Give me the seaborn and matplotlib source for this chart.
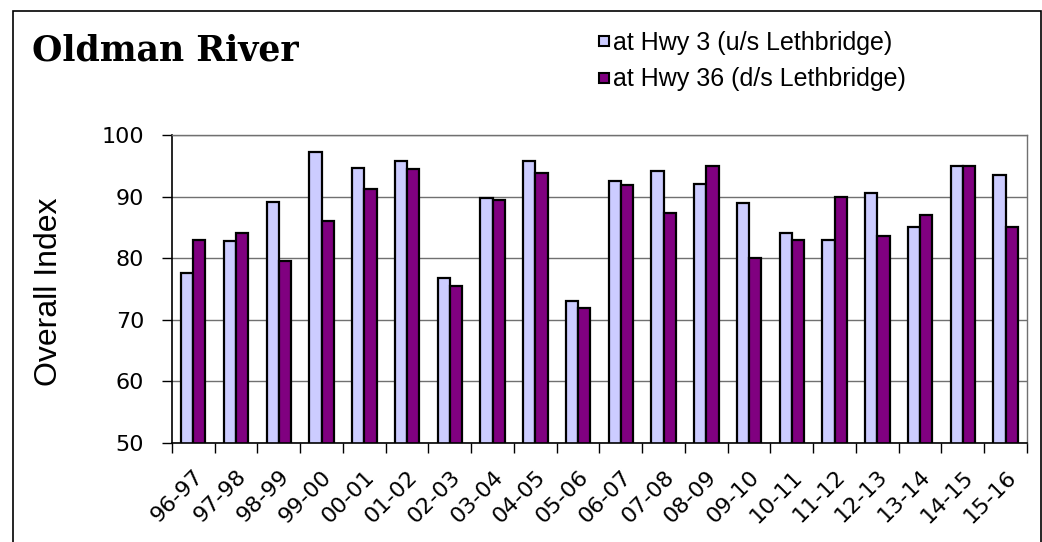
#!/usr/bin/env python3
"""
Oldman River overall index by year, two stations
"""

import numpy as np
import pandas as pd
import matplotlib
matplotlib.use('Agg')
import matplotlib.pyplot as plt
import seaborn as sns
from matplotlib.patches import Rectangle
from matplotlib.lines import Line2D

years = ['96-97', '97-98', '98-99', '99-00', '00-01', '01-02', '02-03',
         '03-04', '04-05', '05-06', '06-07', '07-08', '08-09', '09-10',
         '10-11', '11-12', '12-13', '13-14', '14-15', '15-16']
hwy3 = [77.6, 82.8, 89.1, 97.2, 94.7, 95.8, 76.8, 89.7, 95.7, 73.1,
        92.6, 94.1, 92.0, 88.9, 84.0, 83.0, 90.6, 85.0, 95.0, 93.5]
hwy36 = [82.9, 84.1, 79.6, 86.0, 91.3, 94.5, 75.5, 89.4, 93.8, 71.9,
         91.8, 87.3, 95.0, 80.0, 83.0, 90.0, 83.6, 87.0, 95.0, 85.0]
series = ['at Hwy 3 (u/s Lethbridge)', 'at Hwy 36 (d/s Lethbridge)']
colors = ['#CCCCFF', '#800080']

sns.set_style("white")
plt.rcParams['font.family'] = ['DejaVu Sans']
plt.rcParams.update({'text.color': 'black', 'axes.labelcolor': 'black',
                     'xtick.color': 'black', 'ytick.color': 'black'})

df = pd.DataFrame({
    'Year': years * 2,
    'Index': hwy3 + hwy36,
    'Station': [series[0]] * len(years) + [series[1]] * len(years),
})

fig = plt.figure(figsize=(10.42, 5.42), dpi=100)
ax = fig.add_axes([0.165, 0.183, 0.8206, 0.568])

sns.barplot(data=df, x='Year', y='Index', hue='Station', palette=colors,
            saturation=1, width=0.57, edgecolor='black', linewidth=1.6,
            ax=ax, legend=False)

ax.set_ylim(50, 100)
ax.set_yticks(np.arange(50, 101, 10))
ax.set_xlim(-0.5, len(years) - 0.5)
ax.yaxis.grid(True, color='#707070', linewidth=1)
ax.set_axisbelow(True)

# ticks between categories, labels under category centres
ax.set_xticks(np.arange(len(years)))
ax.set_xticklabels(years, rotation=45, ha='right', va='top',
                   rotation_mode='anchor', fontsize=16)
ax.set_xticks(np.arange(-0.5, len(years), 1), minor=True)
ax.tick_params(axis='x', which='major', length=0, pad=17)
ax.tick_params(axis='x', which='minor', length=7, width=1, color='black',
               direction='out', bottom=True)
ax.tick_params(axis='y', length=7, width=1, color='black', direction='out',
               left=True, labelsize=16, pad=13)

ax.set_xlabel('')
ax.set_ylabel('Overall Index', fontsize=23, family='Liberation Sans')
ax.yaxis.set_label_coords(-0.126, 0.49)

for side in ['left', 'bottom']:
    ax.spines[side].set_color('black')
    ax.spines[side].set_linewidth(1.2)
for side in ['top', 'right']:
    ax.spines[side].set_color('#707070')
    ax.spines[side].set_linewidth(1)

# legend in the figure header, square swatches
handles = [Line2D([], [], marker='s', markersize=7, markerfacecolor=c,
                  markeredgecolor='black', markeredgewidth=1.5, linestyle='none')
           for c in colors]
fig.legend(handles, series, loc='upper left', bbox_to_anchor=(0.575, 0.943),
           frameon=False, prop={'family': 'Liberation Sans', 'size': 18},
           handlelength=0.42, handletextpad=0.15,
           labelspacing=0.5, borderaxespad=0, borderpad=0)

fig.text(0.031, 0.889, 'Oldman River', fontsize=25, fontweight='bold',
         family='DejaVu Serif', va='baseline')

# outer chart frame
fig.patches.append(Rectangle((0.0125, -0.1), 0.9865, 1.08, transform=fig.transFigure,
                             fill=False, edgecolor='black', linewidth=1.2))

plt.savefig('out.png', dpi=100)
plt.close()
